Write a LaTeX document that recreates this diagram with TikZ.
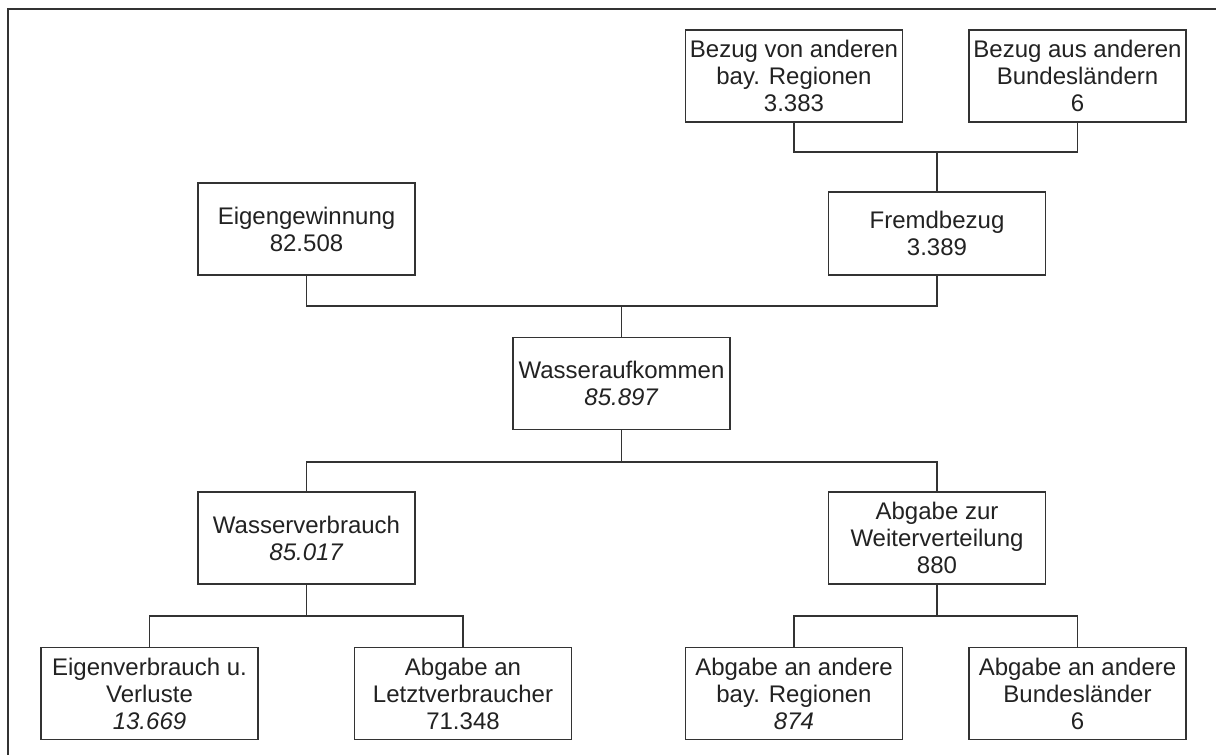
\documentclass[tikz,border=0pt]{standalone}
\usepackage{fontspec}
\setmainfont{Liberation Sans}
\definecolor{linegray}{HTML}{333333}
\definecolor{textgray}{HTML}{222222}
\begin{document}
\begin{tikzpicture}[x=1pt,y=-1pt,
  box/.style={draw=linegray,line width=1.5pt,rectangle,minimum width=217pt,minimum height=92pt,inner sep=0pt,align=center,text=textgray,font=\fontsize{24}{27}\selectfont},
  conn/.style={draw=linegray,line width=1.5pt}]
\useasboundingbox (0,0) rectangle (1216,755);
\fill[white] (0,0) rectangle (1216,755);
% frame
\draw[conn] (8,755) -- (8,9) -- (1216,9);
% nodes
\node[box] (bayR) at (794,76) {Bezug von anderen\\bay. Regionen\\3.383};
\node[box] (bundL) at (1077.5,76) {Bezug aus anderen\\Bundesländern\\6};
\node[box,minimum height=83pt] (fremd) at (937,233.5) {Fremdbezug\\3.389};
\node[box] (eigen) at (306.5,229) {Eigengewinnung\\82.508};
\node[box] (aufk) at (621.5,383.5) {Wasseraufkommen\\\textit{85.897}};
\node[box] (verb) at (306.5,538) {Wasserverbrauch\\\textit{85.017}};
\node[box] (weiter) at (937,538) {Abgabe zur\\Weiterverteilung\\880};
\node[box] (eigv) at (149.5,693.5) {Eigenverbrauch u.\\Verluste\\\textit{13.669}};
\node[box] (letzt) at (463,693.5) {Abgabe an\\Letztverbraucher\\71.348};
\node[box] (abay) at (794,693.5) {Abgabe an andere\\bay. Regionen\\\textit{874}};
\node[box] (abund) at (1077.5,693.5) {Abgabe an andere\\Bundesländer\\6};
% junctions
\coordinate (j1) at (937,152);
\coordinate (j2) at (621.5,306);
\coordinate (j3) at (621.5,462);
\coordinate (j4) at (306.5,616);
\coordinate (j5) at (937,616);
% connectors
\draw[conn] (bayR.south) |- (j1) -| (bundL.south);
\draw[conn] (j1) -- (fremd.north);
\draw[conn] (eigen.south) |- (j2) -| (fremd.south);
\draw[conn] (j2) -- (aufk.north);
\draw[conn] (aufk.south) -- (j3);
\draw[conn] (verb.north) |- (j3) -| (weiter.north);
\draw[conn] (verb.south) -- (j4);
\draw[conn] (eigv.north) |- (j4) -| (letzt.north);
\draw[conn] (weiter.south) -- (j5);
\draw[conn] (abay.north) |- (j5) -| (abund.north);
\end{tikzpicture}
\end{document}
